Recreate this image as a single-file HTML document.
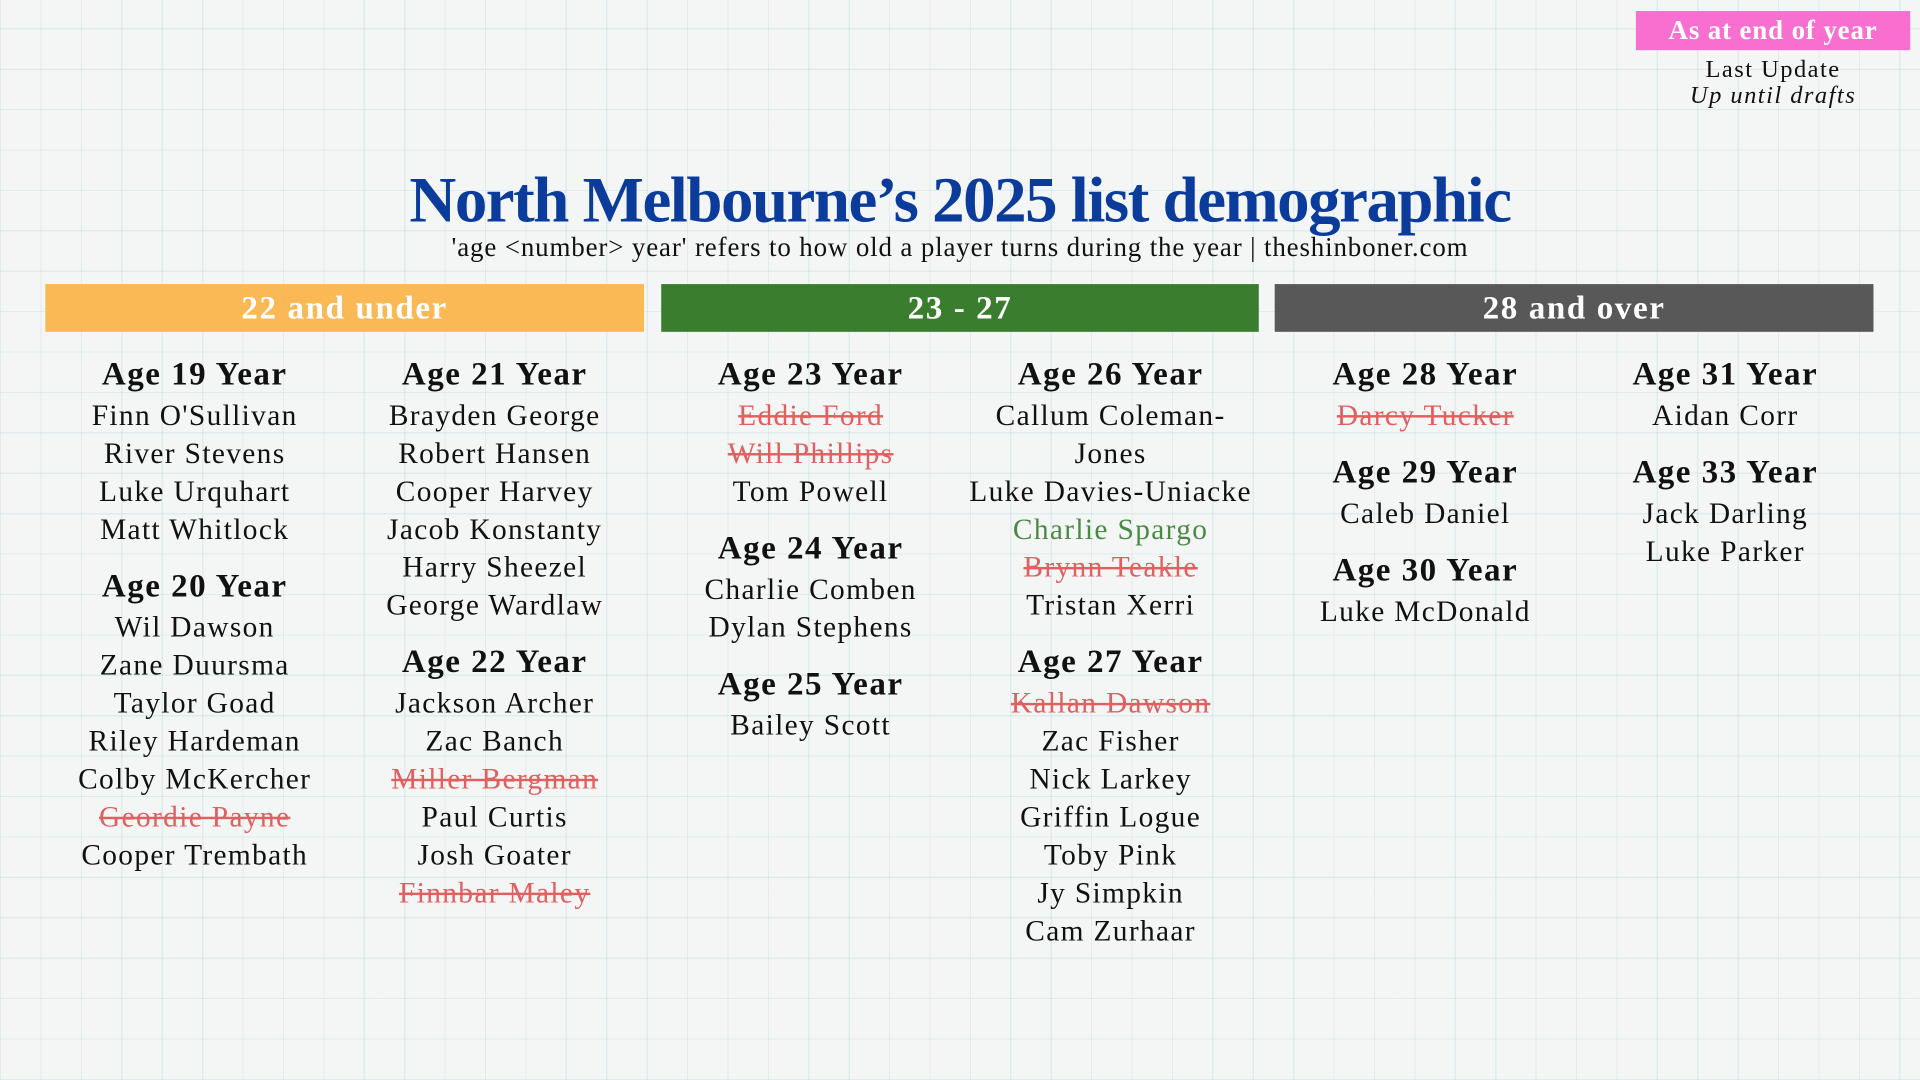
<!DOCTYPE html>
<html><head><meta charset="utf-8"><style>
html,body{margin:0;padding:0;width:1920px;height:1080px;overflow:hidden;background:#f3f5f5}
#w{position:absolute;left:0;top:0;width:1568px;height:882px;transform:scale(1.22449);transform-origin:0 0;
background-color:#f4f6f6;
background-image:repeating-linear-gradient(90deg,rgba(150,200,205,.22) 0 1px,transparent 1px 33px),repeating-linear-gradient(0deg,rgba(150,200,205,.22) 0 1px,transparent 1px 33px);
font-family:"Liberation Serif",serif;color:#111}
.abs{position:absolute}
.pink{left:1336px;top:9px;width:224px;height:32px;background:#f86fcf;color:#fff;font-weight:bold;font-size:22px;line-height:32px;text-align:center;letter-spacing:0.7px}
.upd{left:1336px;top:47px;width:224px;text-align:center;font-size:20px;line-height:21px;letter-spacing:1.2px}
.title{left:0;width:1568px;top:134px;text-align:center;font-size:53px;font-weight:bold;color:#0b3c9c;letter-spacing:-1.2px;line-height:60px}
.sub{left:0;width:1568px;top:189px;text-align:center;font-size:22px;letter-spacing:0.7px;line-height:26px}
.bar{top:232px;height:39px;color:#fff;font-weight:bold;font-size:27px;line-height:39px;text-align:center;letter-spacing:1.3px}
.col{position:absolute;top:288px;width:250px;text-align:center}
.h{font-weight:bold;font-size:27px;line-height:34px;margin-top:12px;margin-bottom:3px;letter-spacing:1.2px}
.h:first-child{margin-top:0}
.n{font-size:24px;line-height:31px;letter-spacing:1.1px;white-space:nowrap}
.x{color:#e06060;text-decoration:line-through;text-decoration-thickness:2px}
.g{color:#4a8a45}
</style></head><body><div id="w">
<div class="abs pink">As at end of year</div>
<div class="abs upd">Last Update<br><i>Up until drafts</i></div>
<div class="abs title">North Melbourne’s 2025 list demographic</div>
<div class="abs sub">'age &lt;number&gt; year' refers to how old a player turns during the year | theshinboner.com</div>
<div class="abs bar" style="left:37px;width:489px;background:#fbb955">22 and under</div>
<div class="abs bar" style="left:540px;width:488px;background:#3a7d2e">23 - 27</div>
<div class="abs bar" style="left:1041px;width:489px;background:#585858">28 and over</div>

<div class="col" style="left:34px">
<div class="h">Age 19 Year</div>
<div class="n">Finn O'Sullivan</div><div class="n">River Stevens</div><div class="n">Luke Urquhart</div><div class="n">Matt Whitlock</div>
<div class="h">Age 20 Year</div>
<div class="n">Wil Dawson</div><div class="n">Zane Duursma</div><div class="n">Taylor Goad</div><div class="n">Riley Hardeman</div><div class="n">Colby McKercher</div><div class="n x">Geordie Payne</div><div class="n">Cooper Trembath</div>
</div>
<div class="col" style="left:279px">
<div class="h">Age 21 Year</div>
<div class="n">Brayden George</div><div class="n">Robert Hansen</div><div class="n">Cooper Harvey</div><div class="n">Jacob Konstanty</div><div class="n">Harry Sheezel</div><div class="n">George Wardlaw</div>
<div class="h">Age 22 Year</div>
<div class="n">Jackson Archer</div><div class="n">Zac Banch</div><div class="n x">Miller Bergman</div><div class="n">Paul Curtis</div><div class="n">Josh Goater</div><div class="n x">Finnbar Maley</div>
</div>
<div class="col" style="left:537px">
<div class="h">Age 23 Year</div>
<div class="n x">Eddie Ford</div><div class="n x">Will Phillips</div><div class="n">Tom Powell</div>
<div class="h">Age 24 Year</div>
<div class="n">Charlie Comben</div><div class="n">Dylan Stephens</div>
<div class="h">Age 25 Year</div>
<div class="n">Bailey Scott</div>
</div>
<div class="col" style="left:782px">
<div class="h">Age 26 Year</div>
<div class="n">Callum Coleman-</div><div class="n">Jones</div><div class="n">Luke Davies-Uniacke</div><div class="n g">Charlie Spargo</div><div class="n x">Brynn Teakle</div><div class="n">Tristan Xerri</div>
<div class="h">Age 27 Year</div>
<div class="n x">Kallan Dawson</div><div class="n">Zac Fisher</div><div class="n">Nick Larkey</div><div class="n">Griffin Logue</div><div class="n">Toby Pink</div><div class="n">Jy Simpkin</div><div class="n">Cam Zurhaar</div>
</div>
<div class="col" style="left:1039px">
<div class="h">Age 28 Year</div>
<div class="n x">Darcy Tucker</div>
<div class="h">Age 29 Year</div>
<div class="n">Caleb Daniel</div>
<div class="h">Age 30 Year</div>
<div class="n">Luke McDonald</div>
</div>
<div class="col" style="left:1284px">
<div class="h">Age 31 Year</div>
<div class="n">Aidan Corr</div>
<div class="h">Age 33 Year</div>
<div class="n">Jack Darling</div><div class="n">Luke Parker</div>
</div>
</div></body></html>
